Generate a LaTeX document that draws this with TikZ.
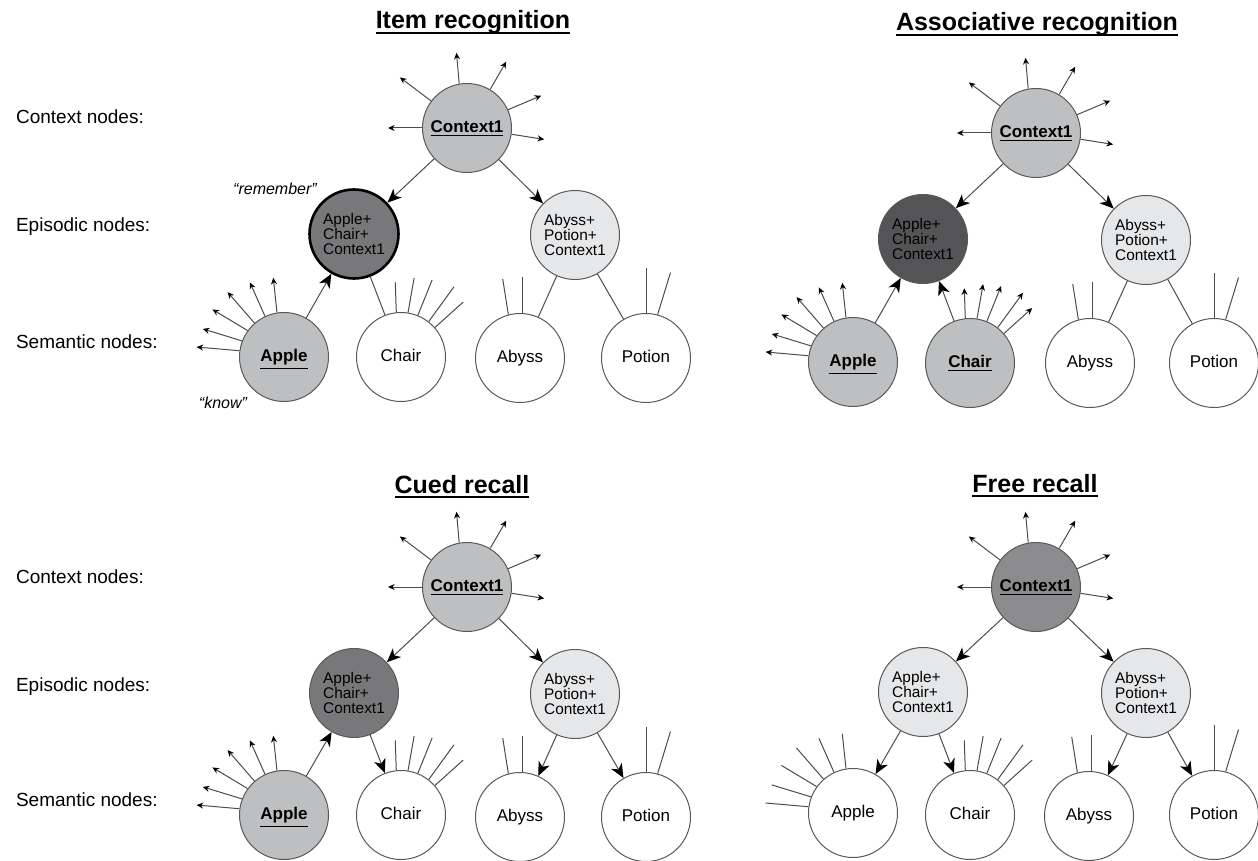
\documentclass[tikz,border=0pt]{standalone}
\usepackage{fontspec}
\setmainfont{Liberation Sans}
\usetikzlibrary{arrows.meta}
\definecolor{lightfill}{RGB}{190,191,193}
\definecolor{midfill}{RGB}{120,120,122}
\definecolor{darkfill}{RGB}{84,84,86}
\definecolor{palefill}{RGB}{230,231,233}
\definecolor{ctxdark}{RGB}{140,140,142}
\newsavebox{\titlebox}
\newcommand{\heavyul}[1]{\sbox{\titlebox}{#1}\usebox{\titlebox}\llap{\rule[-2.6pt]{\wd\titlebox}{0.9pt}}}

\begin{document}
\begin{tikzpicture}%
  [x=0.5pt,y=0.5pt,
   unit/.style=
    {circle,draw=black!65,line width=0.5pt,minimum size=44.5pt,inner sep=0pt,
     font=\fontsize{8.5}{9}\selectfont},
   semantic/.style={unit,text height=6.4pt,text depth=1.8pt},
   episodic/.style=
    {unit,align=left,font=\fontsize{7.7}{7.5}\selectfont},
   rowlabel/.style={anchor=west,font=\fontsize{9.5}{11}\selectfont},
   title/.style={anchor=base,font=\bfseries\fontsize{12.5}{14}\selectfont},
   note/.style={font=\itshape\fontsize{8}{9}\selectfont},
   link/.style={draw=black!70,line width=0.5pt},
   flow/.style={link,-{Stealth[length=7pt,width=6pt,inset=2pt,color=black]}},
   ray/.style={draw=black!70,line width=0.5pt},
   emit/.style={ray,-{Stealth[length=3.3pt,width=3pt,color=black]}}
  ]
  \useasboundingbox (0,0) rectangle (1258,-861);

  % Item recognition
  \node[title] (titleA) at (473,-29) {\heavyul{Item recognition}};
  \node[rowlabel] (ctxlabA) at (9,-117) {Context nodes:};
  \node[rowlabel] (epilabA) at (9,-227) {Episodic nodes:};
  \node[rowlabel] (semlabA) at (9,-342) {Semantic nodes:};
  \node[semantic,fill=lightfill] (ctxA) at (467,-128) {\textbf{\underline{Context1}}};
  \node[episodic,fill=midfill,draw=black,line width=1.3pt] (epiA1) at (354,-234) {Apple+\\Chair+\\Context1};
  \node[episodic,fill=palefill] (epiA2) at (575,-235) {Abyss+\\Potion+\\Context1};
  \node[semantic,fill=lightfill] (appleA) at (284,-357) {\textbf{\underline{Apple}}};
  \node[semantic] (chairA) at (401,-357) {Chair};
  \node[semantic] (abyssA) at (520,-358) {Abyss};
  \node[semantic] (potionA) at (646,-358) {Potion};
  \node[note] (rememberA) at (275,-189) {“remember”};
  \node[note] (knowA) at (223,-403) {“know”};
  \draw[flow] (ctxA) -- (epiA1);
  \draw[flow] (ctxA) -- (epiA2);
  \draw[flow] (appleA) -- (epiA1);
  \draw[link] (epiA1) -- (chairA);
  \draw[link] (epiA2) -- (abyssA);
  \draw[link] (epiA2) -- (potionA);
  \foreach \s/\d/\l in {100/95/31,59/60/32,143/143/39,24/23/36,180/180/34,-8/-9/33}
    \draw[emit] (ctxA.\s) -- ++(\d:\l);
  \foreach \s/\d/\l in {99/96/35,115/114/37,131/131/41,144/149/41,159/163/41,172/175/43}
    \draw[emit] (appleA.\s) -- ++(\d:\l);
  \foreach \s/\d/\l in {96/92/30,81/80/35,68/68/38,52/54/43,41/42/38}
    \draw[ray] (chairA.\s) -- ++(\d:\l);
  \foreach \s/\d/\l in {105/99/36,87/90/36}
    \draw[ray] (abyssA.\s) -- ++(\d:\l);
  \foreach \s/\d/\l in {90/90/45,75/73/44}
    \draw[ray] (potionA.\s) -- ++(\d:\l);

  % Associative recognition
  \node[title] (titleB) at (1037,-31) {\heavyul{Associative recognition}};
  \node[semantic,fill=lightfill] (ctxB) at (1036,-133) {\textbf{\underline{Context1}}};
  \node[episodic,fill=darkfill] (epiB1) at (923,-239) {Apple+\\Chair+\\Context1};
  \node[episodic,fill=palefill] (epiB2) at (1146,-240) {Abyss+\\Potion+\\Context1};
  \node[semantic,fill=lightfill] (appleB) at (853,-362) {\textbf{\underline{Apple}}};
  \node[semantic,fill=lightfill] (chairB) at (970,-363) {\textbf{\underline{Chair}}};
  \node[semantic] (abyssB) at (1090,-363) {Abyss};
  \node[semantic] (potionB) at (1214,-363) {Potion};
  \draw[flow] (ctxB) -- (epiB1);
  \draw[flow] (ctxB) -- (epiB2);
  \draw[flow] (appleB) -- (epiB1);
  \draw[flow] (chairB) -- (epiB1);
  \draw[link] (epiB2) -- (abyssB);
  \draw[link] (epiB2) -- (potionB);
  \foreach \s/\d/\l in {100/95/31,59/60/32,143/143/39,24/23/36,180/180/34,-8/-9/33}
    \draw[emit] (ctxB.\s) -- ++(\d:\l);
  \foreach \s/\d/\l in {99/96/35,115/114/37,131/131/41,144/149/41,159/163/41,172/175/43}
    \draw[emit] (appleB.\s) -- ++(\d:\l);
  \foreach \s/\d/\l in {96/92/30,81/80/35,68/68/38,52/54/43,41/42/38}
    \draw[emit] (chairB.\s) -- ++(\d:\l);
  \foreach \s/\d/\l in {105/99/36,87/90/36}
    \draw[ray] (abyssB.\s) -- ++(\d:\l);
  \foreach \s/\d/\l in {90/90/45,75/73/44}
    \draw[ray] (potionB.\s) -- ++(\d:\l);

  % Cued recall
  \node[title] (titleC) at (462,-493) {\heavyul{Cued recall}};
  \node[rowlabel] (ctxlabC) at (9,-577) {Context nodes:};
  \node[rowlabel] (epilabC) at (9,-687) {Episodic nodes:};
  \node[rowlabel] (semlabC) at (9,-800) {Semantic nodes:};
  \node[semantic,fill=lightfill] (ctxC) at (467,-587) {\textbf{\underline{Context1}}};
  \node[episodic,fill=midfill] (epiC1) at (354,-693) {Apple+\\Chair+\\Context1};
  \node[episodic,fill=palefill] (epiC2) at (575,-694) {Abyss+\\Potion+\\Context1};
  \node[semantic,fill=lightfill] (appleC) at (284,-815) {\textbf{\underline{Apple}}};
  \node[semantic] (chairC) at (401,-815) {Chair};
  \node[semantic] (abyssC) at (520,-817) {Abyss};
  \node[semantic] (potionC) at (646,-817) {Potion};
  \draw[flow] (ctxC) -- (epiC1);
  \draw[flow] (ctxC) -- (epiC2);
  \draw[flow] (appleC) -- (epiC1);
  \draw[flow] (epiC1) -- (chairC);
  \draw[flow] (epiC2) -- (abyssC);
  \draw[flow] (epiC2) -- (potionC);
  \foreach \s/\d/\l in {100/95/31,59/60/32,143/143/39,24/23/36,180/180/34,-8/-9/33}
    \draw[emit] (ctxC.\s) -- ++(\d:\l);
  \foreach \s/\d/\l in {99/96/35,115/114/37,131/131/41,144/149/41,159/163/41,172/175/43}
    \draw[emit] (appleC.\s) -- ++(\d:\l);
  \foreach \s/\d/\l in {96/92/30,81/80/35,68/68/38,52/54/43,41/42/38}
    \draw[ray] (chairC.\s) -- ++(\d:\l);
  \foreach \s/\d/\l in {105/99/36,87/90/36}
    \draw[ray] (abyssC.\s) -- ++(\d:\l);
  \foreach \s/\d/\l in {90/90/45,75/73/44}
    \draw[ray] (potionC.\s) -- ++(\d:\l);

  % Free recall
  \node[title] (titleD) at (1035,-492) {\heavyul{Free recall}};
  \node[semantic,fill=ctxdark] (ctxD) at (1036,-587) {\textbf{\underline{Context1}}};
  \node[episodic,fill=palefill] (epiD1) at (923,-692) {Apple+\\Chair+\\Context1};
  \node[episodic,fill=palefill] (epiD2) at (1146,-693) {Abyss+\\Potion+\\Context1};
  \node[semantic] (appleD) at (853,-813) {Apple};
  \node[semantic] (chairD) at (970,-815) {Chair};
  \node[semantic] (abyssD) at (1089,-816) {Abyss};
  \node[semantic] (potionD) at (1214,-815) {Potion};
  \draw[flow] (ctxD) -- (epiD1);
  \draw[flow] (ctxD) -- (epiD2);
  \draw[flow] (epiD1) -- (appleD);
  \draw[flow] (epiD1) -- (chairD);
  \draw[flow] (epiD2) -- (abyssD);
  \draw[flow] (epiD2) -- (potionD);
  \foreach \s/\d/\l in {100/95/31,59/60/32,143/143/39,24/23/36,180/180/34,-8/-9/33}
    \draw[emit] (ctxD.\s) -- ++(\d:\l);
  \foreach \s/\d/\l in {99/96/35,115/114/37,131/131/41,144/149/41,159/163/41,172/175/43}
    \draw[ray] (appleD.\s) -- ++(\d:\l);
  \foreach \s/\d/\l in {96/92/30,81/80/35,68/68/38,52/54/43,41/42/38}
    \draw[ray] (chairD.\s) -- ++(\d:\l);
  \foreach \s/\d/\l in {105/99/36,87/90/36}
    \draw[ray] (abyssD.\s) -- ++(\d:\l);
  \foreach \s/\d/\l in {90/90/45,75/73/44}
    \draw[ray] (potionD.\s) -- ++(\d:\l);
\end{tikzpicture}
\end{document}
